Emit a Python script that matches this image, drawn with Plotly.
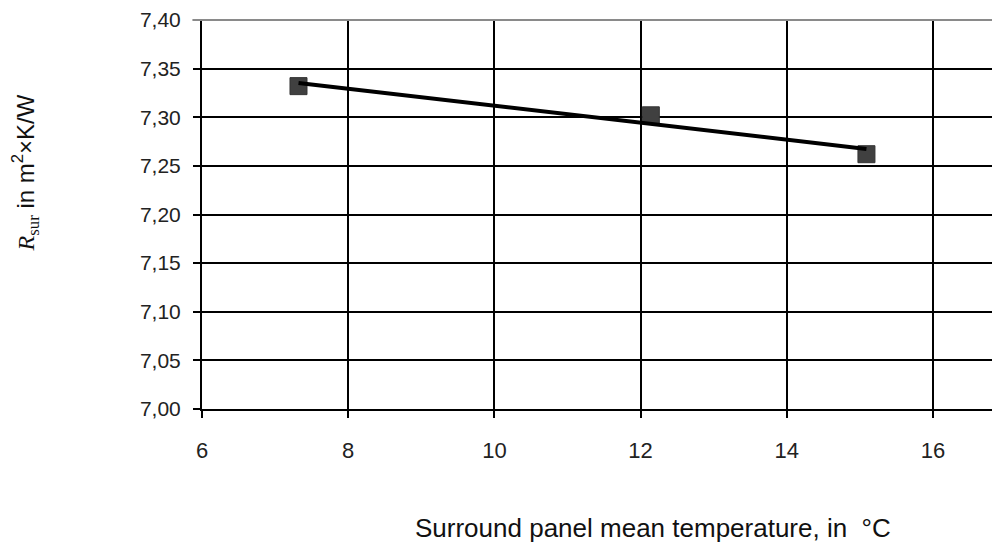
import numpy as np
import plotly.graph_objects as go

# Data
temp_c = [7.32, 12.14, 15.09]
r_sur = [7.332, 7.302, 7.262]

x_ticks = [6, 8, 10, 12, 14, 16]
y_ticks = [7.00, 7.05, 7.10, 7.15, 7.20, 7.25, 7.30, 7.35, 7.40]
y_tick_labels = ["7,00", "7,05", "7,10", "7,15", "7,20", "7,25", "7,30", "7,35", "7,40"]

# Linear trend of the data
slope, intercept = np.polyfit(temp_c, r_sur, 1)
trend_x = [min(temp_c), max(temp_c)]
trend_y = [slope * v + intercept for v in trend_x]

fig = go.Figure()
fig.add_trace(go.Scatter(
    x=temp_c, y=r_sur, mode="markers",
    marker=dict(symbol="square", size=17, color="#404040",
                line=dict(width=1, color="#333333")),
    showlegend=False, cliponaxis=False,
))
fig.add_trace(go.Scatter(
    x=trend_x, y=trend_y, mode="lines",
    line=dict(color="black", width=4),
    showlegend=False,
))

FONT = "Liberation Sans, Arial, sans-serif"

fig.update_layout(
    width=992, height=542,
    margin=dict(l=194, r=0, t=12, b=141, pad=0, autoexpand=False),
    paper_bgcolor="white", plot_bgcolor="white",
    font=dict(family=FONT, color="#111111"),
    xaxis=dict(
        range=[6, 16.917], tickvals=x_ticks,
        showgrid=True, gridcolor="black", gridwidth=1.5,
        showline=True, linecolor="black", linewidth=2,
        ticks="outside", ticklen=7, tickwidth=1.5, tickcolor="black",
        tickfont=dict(size=22, family=FONT, color="#222222"),
        ticklabelstandoff=14,
        zeroline=False, automargin=False,
    ),
    yaxis=dict(
        range=[7.0, 7.4], tickvals=y_ticks, ticktext=y_tick_labels,
        showgrid=True, gridcolor="black", gridwidth=1.5,
        showline=True, linecolor="black", linewidth=2,
        ticks="outside", ticklen=7, tickwidth=1.5, tickcolor="black",
        tickfont=dict(size=21, family=FONT, color="#222222"),
        ticklabelstandoff=8,
        zeroline=False, automargin=False,
    ),
    shapes=[dict(type="line", xref="paper", yref="paper", x0=-0.012, x1=1, y0=1, y1=1,
                 line=dict(color="#8a8a8a", width=2), layer="above")],
    annotations=[
        dict(text="Surround panel mean temperature, in  °C",
             xref="paper", yref="paper", x=0.565, y=-0.306,
             xanchor="center", yanchor="middle", showarrow=False,
             font=dict(size=26, family=FONT, color="#111111")),
        dict(text='<span style="font-family:Liberation Serif, Times New Roman, serif"><i>R</i><sub>sur</sub></span> in m<sup>2</sup>×K/W',
             xref="paper", yref="paper", x=-0.2206, y=0.608,
             xanchor="center", yanchor="middle", textangle=-90, showarrow=False,
             font=dict(size=24, family=FONT, color="#111111")),
    ],
)

fig.write_html("out.html")
